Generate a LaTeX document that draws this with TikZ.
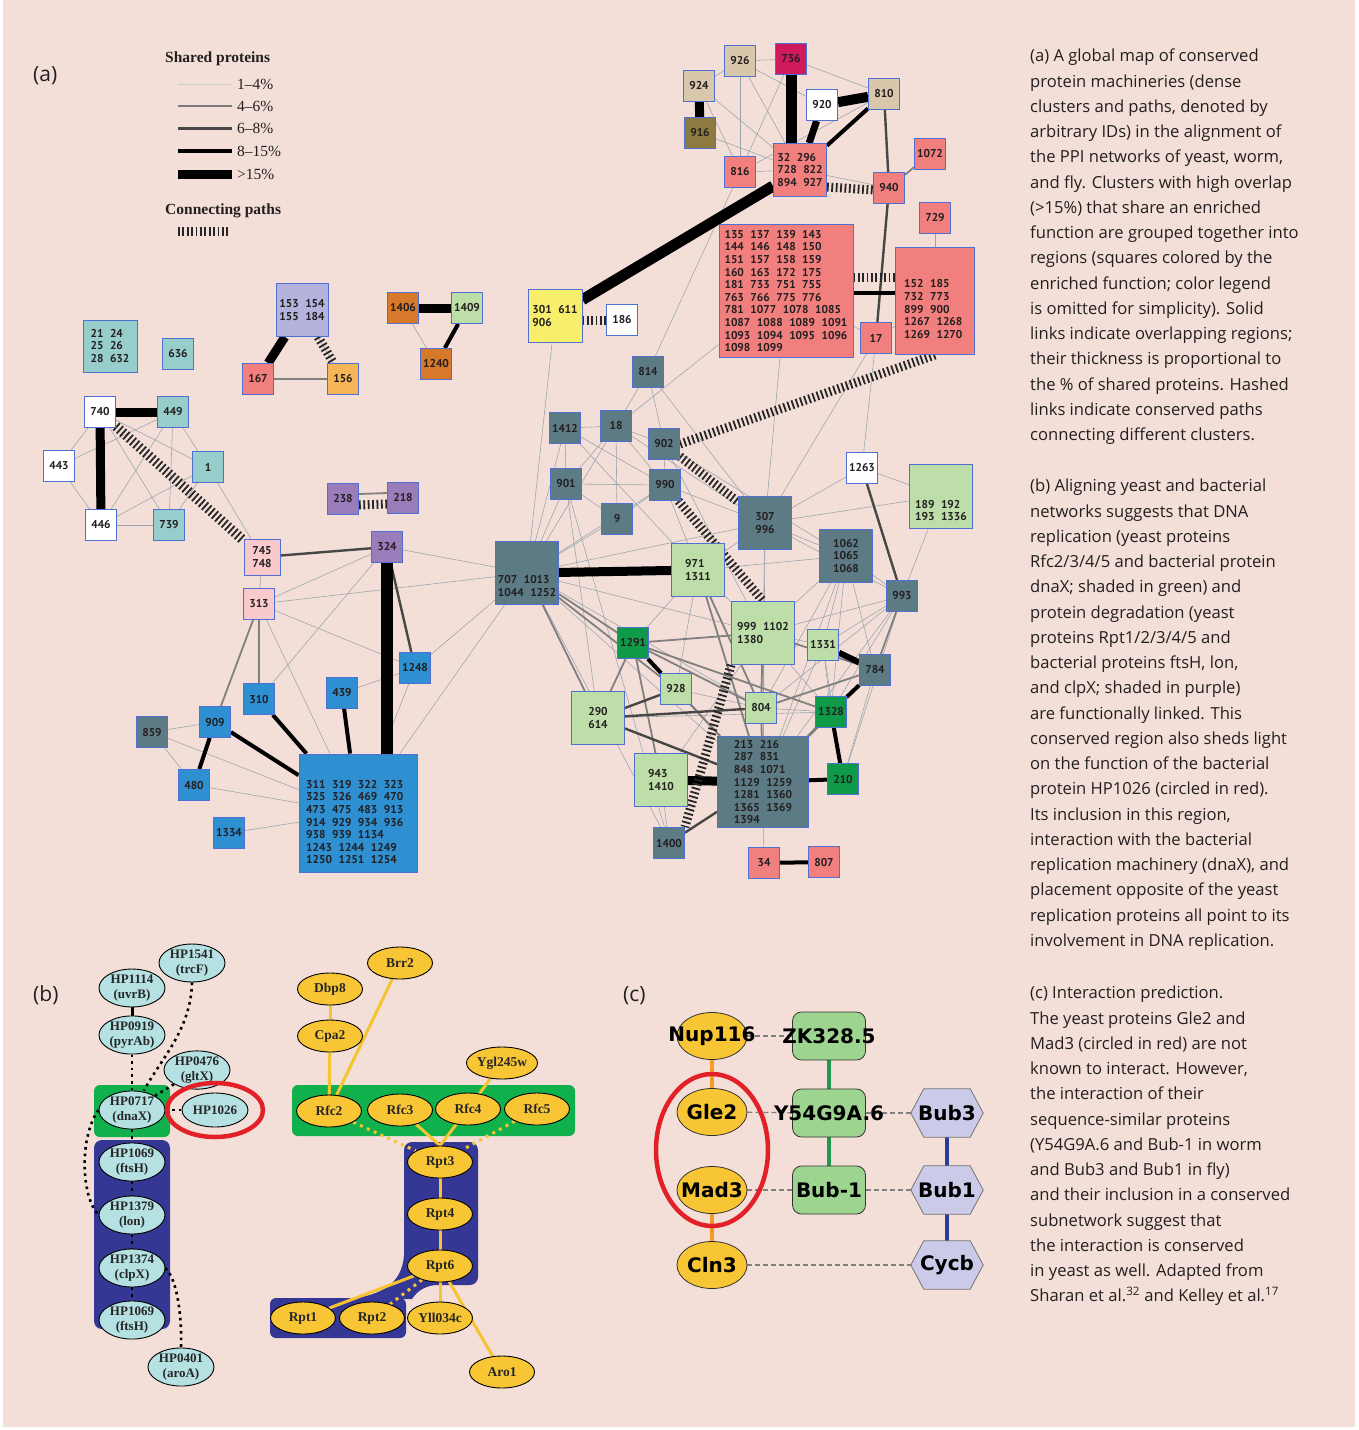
\documentclass[tikz,border=0pt]{standalone}
\usepackage{fontspec}
\setmainfont{Open Sans}
\newfontfamily\nf{DejaVu Sans}
\newfontfamily\bxf{PT Sans}
\newfontfamily\tms{Liberation Serif}
\usetikzlibrary{shapes.geometric}
\pgfdeclarelayer{edges}
\pgfdeclarelayer{shapes}
\pgfsetlayers{edges,shapes,main}
\definecolor{bgc}{HTML}{F3DFD7}
\definecolor{bdc}{HTML}{4F6FD2}
\definecolor{cteal}{HTML}{97CECB}
\definecolor{csal}{HTML}{F17F7E}
\definecolor{clav}{HTML}{B4B3DD}
\definecolor{cora}{HTML}{F6B658}
\definecolor{cdor}{HTML}{D6792A}
\definecolor{clgr}{HTML}{BDDEA9}
\definecolor{cpur}{HTML}{9A7CBB}
\definecolor{cpnk}{HTML}{F8CACB}
\definecolor{cblu}{HTML}{2E8FD1}
\definecolor{csla}{HTML}{5D7B85}
\definecolor{ctan}{HTML}{D9C7AC}
\definecolor{cmag}{HTML}{CF1A5D}
\definecolor{coli}{HTML}{8C7A40}
\definecolor{cyel}{HTML}{F7EF6C}
\definecolor{cgrn}{HTML}{0F9A4A}
\definecolor{thn}{HTML}{98A3AD}
\definecolor{cyb}{HTML}{B5E1E2}
\definecolor{ybd}{HTML}{F8C535}
\definecolor{gbx}{HTML}{10B14D}
\definecolor{bbx}{HTML}{353795}
\definecolor{yln}{HTML}{F6C42E}
\definecolor{cgr}{HTML}{9DD48F}
\definecolor{chx}{HTML}{CBCAE8}
\definecolor{corl}{HTML}{F49B26}
\definecolor{cgl}{HTML}{1F9A4C}
\definecolor{cbl}{HTML}{2C3A99}
\definecolor{cred}{HTML}{E32028}
\definecolor{txt}{HTML}{231F20}
\newcommand\gp{\hspace{6.5pt}}
\newcommand\hexa[1]{\draw[fill=chx,draw=black!55,line width=0.8pt] (#1.west) -- ([xshift=13pt]#1.north west) -- ([xshift=-13pt]#1.north east) -- (#1.east) -- ([xshift=-13pt]#1.south east) -- ([xshift=13pt]#1.south west) -- cycle;}
\newcommand\zw[1]{\makebox[0pt]{#1}}
\begin{document}
\begin{tikzpicture}[x=1pt,y=-1pt,
  box/.style={draw=bdc,line width=0.9pt,minimum size=31pt,inner sep=0pt,font=\bxf\bfseries\fontsize{11.4}{12.6}\selectfont,text=txt,align=left},
  btx/.style={inner sep=0pt,font=\bxf\bfseries\fontsize{11.4}{12.6}\selectfont,text=txt,align=left},
  e1/.style={draw=thn,line width=0.55pt},
  e2/.style={draw=black!50,line width=1.8pt},
  e3/.style={draw=black!72,line width=2.4pt},
  e4/.style={draw=black,line width=4pt},
  e5/.style={draw=black,line width=9pt},
  hash/.style={draw=black!85,line width=9pt,dash pattern=on 1.8pt off 2.6pt},
  lgt/.style={inner sep=0pt,font=\tms\fontsize{15.5}{18}\selectfont,text=txt},
  captx/.style={inner sep=0pt,font=\fontsize{16.6}{25.25}\selectfont,text=txt,align=left,anchor=north west},
  plab/.style={inner sep=0pt,font=\fontsize{21}{26}\selectfont,text=txt,anchor=base west},
  pe/.style={ellipse,draw=black,line width=0.9pt,fill=cyb,minimum width=66pt,minimum height=34pt,inner sep=0pt,font=\tms\bfseries\fontsize{13}{15.5}\selectfont,align=center,text=black!85},
  ye/.style={ellipse,draw=black,line width=0.9pt,fill=ybd,minimum width=65pt,minimum height=32pt,inner sep=0pt,font=\tms\bfseries\fontsize{13.5}{15}\selectfont,text=black!85},
  dotb/.style={draw=black,line width=2.6pt,dash pattern=on 2.6pt off 4pt},
  yl/.style={draw=yln,line width=3pt},
  ydot/.style={draw=yln,line width=3pt,dash pattern=on 3pt off 4.5pt},
  ce/.style={ellipse,draw=black!80,line width=0.8pt,fill=ybd,minimum width=70pt,minimum height=47pt,inner sep=0pt,font=\nf\bfseries\fontsize{20}{22}\selectfont},
  cr/.style={rectangle,rounded corners=9pt,draw=black!80,line width=0.8pt,fill=cgr,minimum width=73pt,minimum height=48pt,inner sep=0pt,font=\nf\bfseries\fontsize{20}{22}\selectfont},
  ch/.style={rectangle,minimum width=72pt,minimum height=48pt,inner sep=0pt,font=\nf\bfseries\fontsize{20}{22}\selectfont},
  cdash/.style={draw=black!50,line width=1.2pt,dash pattern=on 5pt off 3pt}
]
\useasboundingbox (0,0) rectangle (1358,1430);
\begin{pgfonlayer}{edges}
\fill[white] (0,0) rectangle (1358,1430);
\fill[bgc] (3,0) rectangle (1355,1427);
\end{pgfonlayer}

% ---------------- legend ----------------
\node[lgt,anchor=base west] (lg0) at (165,62) {\bfseries Shared proteins};
\node[lgt,anchor=west] (lt1) at (237,84) {1–4\%};
\node[lgt,anchor=west] (lt2) at (237,106) {4–6\%};
\node[lgt,anchor=west] (lt3) at (237,128) {6–8\%};
\node[lgt,anchor=west] (lt4) at (237,151) {8–15\%};
\node[lgt,anchor=west] (lt5) at (237,174) {>15\%};
\node[lgt,anchor=base west] (lg1) at (165,214) {\bfseries Connecting paths};
\draw[draw=black!20,line width=0.6pt] (178,84) -- (232,84);
\draw[draw=black!52,line width=2.2pt] (178,106) -- (232,106);
\draw[draw=black!72,line width=3pt] (178,128) -- (232,128);
\draw[draw=black,line width=4.5pt] (178,151) -- (232,151);
\draw[draw=black,line width=9pt] (178,174) -- (232,174);
\draw[hash] (178,231) -- (228,231);

\node[plab] (pa) at (33,81) {(a)};
\node[plab] (pb) at (33,1001) {(b)};
\node[plab] (pc) at (623,1001) {(c)};

% ---------------- panel a nodes ----------------
\node[box,fill=cteal,minimum width=54pt,minimum height=52pt] (n2124) at (110,346) {21\gp24\\25\gp26\\28\gp632};
\node[box,fill=cteal] (n636) at (178,354) {636};
\node[box,fill=clav,minimum width=52pt,minimum height=53pt] (n153) at (302,310) {153\gp154\\155\gp184};
\node[box,fill=csal] (n167) at (258,379) {167};
\node[box,fill=cora] (n156) at (343,379) {156};
\node[box,fill=cdor] (n1406) at (403,308) {1406};
\node[box,fill=clgr] (n1409) at (467,308) {1409};
\node[box,fill=cdor] (n1240) at (436,364) {1240};
\node[box,fill=white] (n740) at (100,412) {740};
\node[box,fill=cteal] (n449) at (173,412) {449};
\node[box,fill=white] (n443) at (59,466) {443};
\node[box,fill=cteal] (n1) at (208,467) {1};
\node[box,fill=white] (n446) at (101,525) {446};
\node[box,fill=cteal] (n739) at (169,525) {739};
\node[box,fill=cpur] (n238) at (343,499) {238};
\node[box,fill=cpur] (n218) at (403,498) {218};
\node[box,fill=cpnk,minimum size=36pt,align=center] (n745) at (262,557) {745\\748};
\node[box,fill=cpur] (n324) at (387,547) {324};
\node[box,fill=cpnk] (n313) at (259,604) {313};
\node[box,fill=cblu] (n1248) at (415,668) {1248};
\node[box,fill=cblu] (n439) at (342,693) {439};
\node[box,fill=cblu] (n310) at (259,699) {310};
\node[box,fill=cblu] (n909) at (215,722) {909};
\node[box,fill=csla] (n859) at (152,732) {859};
\node[box,fill=cblu] (n480) at (194,785) {480};
\node[box,fill=cblu] (n1334) at (229,833) {1334};
\node[box,fill=cblu,minimum size=118pt] (nB) at (358,813) {};
\node[btx,anchor=north west] (nBt) at (306,780) {311\gp319\gp322\gp323\\325\gp326\gp469\gp470\\473\gp475\gp483\gp913\\914\gp929\gp934\gp936\\938\gp939\gp1134\\1243\gp1244\gp1249\\1250\gp1251\gp1254};

\node[box,fill=ctan] (n926) at (740,61) {926};
\node[box,fill=cmag] (n736) at (791,59) {736};
\node[box,fill=ctan] (n924) at (699,86) {924};
\node[box,fill=coli] (n916) at (700,133) {916};
\node[box,fill=white] (n920) at (822,105) {920};
\node[box,fill=ctan] (n810) at (884,94) {810};
\node[box,fill=csal] (n816) at (740,172) {816};
\node[box,fill=csal,minimum size=53pt] (n32) at (800,170) {32\gp296\\728\gp822\\894\gp927};
\node[box,fill=csal] (n940) at (889,188) {940};
\node[box,fill=csal] (n1072) at (930,154) {1072};
\node[box,fill=csal] (n729) at (935,218) {729};
\node[box,fill=csal,minimum width=134pt,minimum height=133pt] (nS) at (786,291) {135\gp137\gp139\gp143\\144\gp146\gp148\gp150\\151\gp157\gp158\gp159\\160\gp163\gp172\gp175\\181\gp733\gp751\gp755\\763\gp766\gp775\gp776\\781\gp1077\gp1078\gp1085\\1087\gp1088\gp1089\gp1091\\1093\gp1094\gp1095\gp1096\\1098\gp1099};
\node[box,fill=csal] (n17) at (876,338) {17};
\node[box,fill=csal,minimum width=79pt,minimum height=107pt] (n152) at (935,301) {};
\node[btx,anchor=north west] (n152t) at (904,279.5) {152\gp185\\732\gp773\\899\gp900\\1267\gp1268\\1269\gp1270};
\node[box,fill=cyel,minimum width=54pt,minimum height=53pt] (n301) at (555,316) {301\gp611\\906};
\node[box,fill=white] (n186) at (622,320) {186};
\node[box,fill=csla] (n814) at (648,372) {814};
\node[box,fill=csla] (n1412) at (565,428) {1412};
\node[box,fill=csla] (n18) at (616,426) {18};
\node[box,fill=csla] (n902) at (664,444) {902};
\node[box,fill=csla] (n901) at (566,484) {901};
\node[box,fill=csla] (n990) at (665,485) {990};
\node[box,fill=csla] (n9) at (617,519) {9};
\node[box,fill=csla,minimum size=53pt,align=center] (n307) at (765,523) {307\\996};
\node[box,fill=white] (n1263) at (862,468) {1263};
\node[box,fill=clgr,minimum width=63pt,minimum height=64pt] (n189) at (941,496) {};
\node[btx] (n189t) at (941,510.5) {189\gp192\\193\gp1336};
\node[box,fill=csla,minimum size=53pt,align=center] (n1062) at (846,556) {1062\\1065\\1068};
\node[box,fill=csla] (n993) at (902,596) {993};
\node[box,fill=csla,minimum size=63pt] (n707) at (527,573) {};
\node[btx] (n707t) at (527,586) {707\gp1013\\1044\gp1252};
\node[box,fill=clgr,minimum size=53pt] (n971) at (698,570) {971\\1311};
\node[box,fill=clgr,minimum size=63pt] (n999) at (763,633) {999\gp1102\\1380};
\node[box,fill=clgr] (n1331) at (823,645) {1331};
\node[box,fill=csla] (n784) at (875,670) {784};
\node[box,fill=cgrn] (n1291) at (633,643) {1291};
\node[box,fill=clgr] (n928) at (676,689) {928};
\node[box,fill=clgr] (n804) at (761,708) {804};
\node[box,fill=cgrn] (n1328) at (831,712) {1328};
\node[box,fill=clgr,minimum size=53pt,align=center] (n290) at (598,718) {290\\614};
\node[box,fill=csla,minimum size=91pt] (nD) at (763,782) {213\gp216\\287\gp831\\848\gp1071\\1129\gp1259\\1281\gp1360\\1365\gp1369\\1394};
\node[box,fill=clgr,minimum size=53pt] (n943) at (661,780) {943\\1410};
\node[box,fill=cgrn] (n210) at (843,779) {210};
\node[box,fill=csla] (n1400) at (669,843) {1400};
\node[box,fill=csal] (n34) at (764,863) {34};
\node[box,fill=csal] (n807) at (824,862) {807};

% ---------------- panel a edges ----------------
\begin{pgfonlayer}{edges}
\foreach \a/\b in {n740/n443,n740/n1,n740/n739,n449/n443,n449/n446,n449/n739,n449/n1,n443/n446,n446/n739,n446/n1,n739/n1,n1/n745,n153/n156,n1406/n1240,n745/n313,n313/n324,n313/n1248,n313/nB,n313/n707,n324/n310,n324/n707,n1248/n439,n1248/nB,n1248/n707,nB/n707,n859/n909,n859/n480,n859/nB,n480/nB,n1334/nB,
n924/n926,n926/n736,n926/n816,n926/n32,n926/n920,n736/n810,n736/n816,n924/n32,n924/n816,n916/n32,n810/n816,n32/n816,n32/n940,n816/n814,n17/nS,n729/n152,n1263/n17,n307/n17,n301/n707,nS/n18,nS/n307,n152/n17,
n814/n18,n814/n902,n814/n307,n1412/n18,n1412/n901,n1412/n707,n1412/n990,n18/n902,n18/n901,n18/n9,n18/n990,n18/n707,n18/n307,n902/n990,n902/n999,n901/n990,n901/n707,n901/n9,n901/n290,n9/n990,n9/n707,n990/n707,n990/n971,n990/n307,n902/n1062,n307/n971,n307/n707,n307/n1062,n307/n999,n307/n993,n307/n189,n307/n1263,n1263/n189,n189/n993,n1062/n999,n1062/n1331,n1062/n784,n1062/n993,n1062/n804,n1062/n1328,n1062/nD,n993/n999,n993/n1331,n993/n1328,n993/n804,n993/n210,n707/nD,n707/n999,n707/n1400,n971/n1291,n971/n999,n971/n928,n999/n1331,n999/nD,n999/n1328,n1331/n1328,n1331/nD,n928/n804,n804/n1328,n943/n1400,nD/n34,n943/n999,n290/n1328,n707/n804,n1412/n971,n971/n1062,n307/nD,n901/n1400,n1331/n210,n784/n210,n993/nD}
  \draw[e1] (\a) -- (\b);
\foreach \a/\b in {n167/n156,n313/n310,n313/n909,n940/n1072,n707/n1291,n707/n928,n971/nD,n999/n1291,n999/n804,n999/n784,n1291/n804,n1291/n290,n1291/nD,n1291/n943,n1291/n1328,n928/nD,n804/n784,n804/nD,n1328/nD,n784/nD,n993/n784,n707/n290,n971/n804}
  \draw[e2] (\a) -- (\b);
\foreach \a/\b in {n745/n324,n324/n1248,n810/n940,n940/n17,n1263/n993,n928/n290,n290/n804,n290/nD,n1400/nD}
  \draw[e3] (\a) -- (\b);
\foreach \a/\b in {n1409/n1240,n439/nB,n310/nB,n909/nB,n909/n480,n810/n32,n1291/n928,n784/n1328,n1328/n210,n210/nD,n34/n807}
  \draw[e4] (\a) -- (\b);
\draw[e4,line width=6pt] (n1331) -- (n784);
\foreach \a/\b in {n740/n449,n740/n446,n153/n167,n1406/n1409,n924/n916,n707/n971,n943/nD}
  \draw[e5] (\a) -- (\b);
\draw[e5,line width=12pt] (n324) -- (n324 |- nB.north);
\draw[e5,line width=11pt] (n736) -- (n736 |- n32.north);
\draw[e5,line width=10pt] (n920) -- (n810);
\draw[e5,line width=7pt] (n920) -- (n32);
\draw[e5,line width=11pt] (n301) -- (n32);
\draw[e4,line width=3.5pt] ([yshift=-2pt]nS.east) -- ([yshift=8pt]n152.west);
% hashed paths
\draw[hash,line width=10pt] (n740) -- (n745);
\draw[hash] (n153) -- (n156);
\draw[hash] ([yshift=-6pt]n238.east) -- ([yshift=-6pt]n218.west);
\draw[e2] ([yshift=5pt]n238.east) -- ([yshift=5pt]n218.west);
\draw[hash] ([yshift=-4pt]n301.east) -- ([yshift=0pt]n186.west);
\draw[hash] ([yshift=-17pt]n32.east) -- ([yshift=-2pt]n940.west);
\draw[hash] ([yshift=14pt]nS.east) -- ([yshift=24pt]n152.west);
\draw[hash] (n152.south) -- (n902.east);
\draw[hash] (n902) -- (n307);
\draw[hash] (n990) -- (n999.north);
\draw[hash] (n999.south west) -- (n1400.north east);
\end{pgfonlayer}

% ---------------- panel b ----------------
\node[pe] (b1541) at (192,963) {HP1541\\(trcF)};
\node[pe] (b1114) at (132,988) {HP1114\\(uvrB)};
\node[pe] (b0919) at (132,1035) {HP0919\\(pyrAb)};
\node[pe] (b0476) at (197,1070) {HP0476\\(gltX)};
\node[pe] (b0717) at (132,1110) {HP0717\\(dnaX)};
\node[pe] (b1026) at (215,1110) {HP1026};
\node[pe] (b1069a) at (132,1162) {HP1069\\(ftsH)};
\node[pe] (b1379) at (132,1215) {HP1379\\(lon)};
\node[pe] (b1374) at (132,1268) {HP1374\\(clpX)};
\node[pe] (b1069b) at (132,1320) {HP1069\\(ftsH)};
\node[pe] (b0401) at (181,1367) {HP0401\\(aroA)};
\draw[cred,line width=4.5pt] (b1026) ellipse [x radius=48pt,y radius=27pt];

\node[ye] (brr2) at (400,963) {Brr2};
\node[ye] (dbp8) at (330,989) {Dbp8};
\node[ye] (cpa2) at (330,1036) {Cpa2};
\node[ye] (ygl) at (502,1063) {Ygl245w};
\node[ye] (rfc2) at (329,1111) {Rfc2};
\node[ye] (rfc3) at (400,1110) {Rfc3};
\node[ye] (rfc4) at (468,1109) {Rfc4};
\node[ye] (rfc5) at (537,1109) {Rfc5};
\node[ye] (rpt3) at (440,1162) {Rpt3};
\node[ye] (rpt4) at (440,1214) {Rpt4};
\node[ye] (rpt6) at (440,1266) {Rpt6};
\node[ye] (rpt1) at (303,1318) {Rpt1};
\node[ye] (rpt2) at (372,1318) {Rpt2};
\node[ye] (yll) at (440,1318) {Yll034c};
\node[ye] (aro1) at (502,1372) {Aro1};

\begin{pgfonlayer}{edges}
\fill[gbx,rounded corners=6pt] (94,1085) rectangle (170,1137);
\fill[bbx,rounded corners=8pt] (94,1140) rectangle (170,1329);
\fill[gbx,rounded corners=6pt] (292,1085) rectangle (575,1136);
\fill[bbx,rounded corners=8pt] (404,1142) rectangle (478,1285);
\fill[bbx,rounded corners=6pt] (270,1298) rectangle (406,1338);
\fill[bbx] (404,1235) -- (404,1255) .. controls (402,1285) and (380,1295) .. (350,1299) -- (412,1299) .. controls (418,1290) and (425,1286) .. (440,1284) -- (440,1235) -- cycle;
\draw[draw=black,line width=3pt] (b1114) -- (b0919);
\foreach \a/\b in {b0919/b0717,b0476/b0717,b0717/b1026,b0717/b1069a,b1069a/b1379,b1379/b1374,b1374/b1069b}
  \draw[dotb] (\a) -- (\b);
\draw[dotb] (b1541.south) .. controls (191,1030) and (160,1060) .. ([xshift=12pt]b0717.north);
\draw[dotb] (b0717.west) .. controls (80,1135) and (80,1195) .. (b1379.west);
\draw[dotb] (b1374.east) .. controls (178,1280) and (182,1320) .. (b0401.north);
\foreach \a/\b in {dbp8/cpa2,cpa2/rfc2,brr2/rfc2,ygl/rfc4,rpt3/rpt4,rpt4/rpt6,rpt6/rpt1,rpt6/yll,rpt6/aro1}
  \draw[yl] (\a) -- (\b);
\draw[yl] (rfc3) -- (rpt3.north);
\draw[yl] (rfc4) -- (rpt3.north);
\draw[ydot] (rfc2) -- (rpt3);
\draw[ydot] (rfc5) -- (rpt3);
\draw[ydot] (rpt6) -- (rpt2);
\end{pgfonlayer}

% ---------------- panel c ----------------
\node[ce] (nup) at (712,1036) {\zw{Nup116}};
\node[ce] (gle2) at (712,1112) {\zw{Gle2}};
\node[ce] (mad3) at (712,1190) {\zw{Mad3}};
\node[ce] (cln3) at (712,1265) {\zw{Cln3}};
\node[cr] (zk) at (829,1036) {\zw{ZK328.5}};
\node[cr] (y54) at (829,1113) {\zw{Y54G9A.6}};
\node[cr] (bubm) at (829,1190) {\zw{Bub-1}};
\node[ch] (bub3) at (947,1113) {\zw{Bub3}};
\node[ch] (bub1) at (947,1190) {\zw{Bub1}};
\node[ch] (cycb) at (947,1265) {\zw{Cycb}};
\begin{pgfonlayer}{shapes}
\hexa{bub3}
\hexa{bub1}
\hexa{cycb}
\end{pgfonlayer}
\begin{pgfonlayer}{edges}
\draw[corl,line width=4pt] (nup) -- (gle2);
\draw[corl,line width=4pt] (mad3) -- (cln3);
\draw[cgl,line width=4pt] (zk) -- (y54);
\draw[cgl,line width=4pt] (y54) -- (bubm);
\draw[cbl,line width=4pt] (bub3) -- (bub1);
\draw[cbl,line width=4pt] (bub1) -- (cycb);
\foreach \a/\b in {nup/zk,gle2/y54,y54/bub3,mad3/bubm,bubm/bub1,cln3/cycb}
  \draw[cdash] (\a) -- (\b);
\end{pgfonlayer}
\draw[cred,line width=4.5pt] (712,1150) ellipse [x radius=56pt,y radius=76pt];

% ---------------- captions ----------------
\node[captx] (capa) at (1030,49) {(a) A global map of conserved\\protein machineries (dense\\clusters and paths, denoted by\\arbitrary IDs) in the alignment of\\the PPI networks of yeast, worm,\\and fly. Clusters with high overlap\\(>15\%) that share an enriched\\function are grouped together into\\regions (squares colored by the\\enriched function; color legend\\is omitted for simplicity). Solid\\links indicate overlapping regions;\\their thickness is proportional to\\the \% of shared proteins. Hashed\\links indicate conserved paths\\connecting different clusters.};
\node[captx] (capb) at (1030,479) {(b) Aligning yeast and bacterial\\networks suggests that DNA\\replication (yeast proteins\\Rfc2/3/4/5 and bacterial protein\\dnaX; shaded in green) and\\protein degradation (yeast\\proteins Rpt1/2/3/4/5 and\\bacterial proteins ftsH, lon,\\and clpX; shaded in purple)\\are functionally linked. This\\conserved region also sheds light\\on the function of the bacterial\\protein HP1026 (circled in red).\\Its inclusion in this region,\\interaction with the bacterial\\replication machinery (dnaX), and\\placement opposite of the yeast\\replication proteins all point to its\\involvement in DNA replication.};
\node[captx] (capc) at (1030,986) {(c) Interaction prediction.\\The yeast proteins Gle2 and\\Mad3 (circled in red) are not\\known to interact. However,\\the interaction of their\\sequence-similar proteins\\(Y54G9A.6 and Bub-1 in worm\\and Bub3 and Bub1 in fly)\\and their inclusion in a conserved\\subnetwork suggest that\\the interaction is conserved\\in yeast as well. Adapted from\\Sharan et al.\textsuperscript{32} and Kelley et al.\textsuperscript{17}};
\end{tikzpicture}
\end{document}
